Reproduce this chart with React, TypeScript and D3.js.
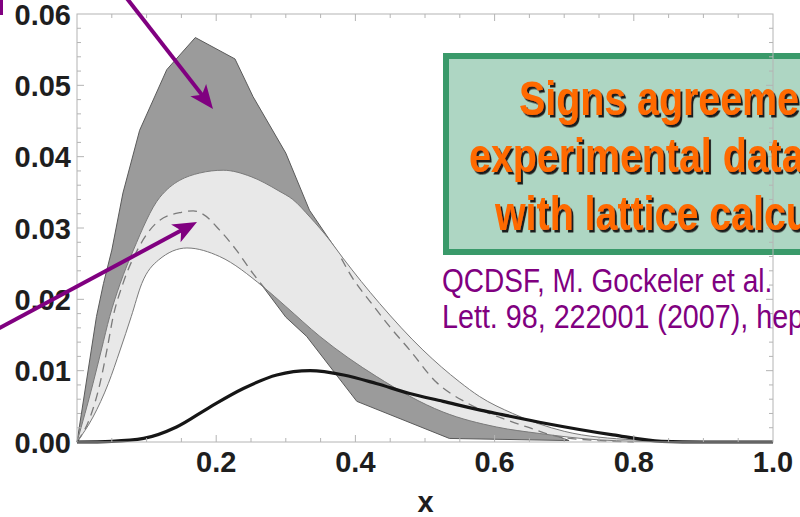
import React from "react";
import * as d3 from "d3";

const W = 800;
const H = 517;

const xTickLabels = [0.2, 0.4, 0.6, 0.8, 1.0];
const yTickLabels = [0, 0.01, 0.02, 0.03, 0.04, 0.05, 0.06];

// dark grey band (polygonal)
const darkUpper: [number, number][] = [
  [0, 0], [0.028, 0.0176], [0.038, 0.0222], [0.05, 0.0269], [0.066, 0.0349], [0.09, 0.0437],
  [0.129, 0.0522], [0.17, 0.0567], [0.227, 0.0537], [0.253, 0.0484], [0.3, 0.0405],
  [0.334, 0.0325], [0.382, 0.0256], [0.45, 0.016], [0.5, 0.011], [0.55, 0.0072],
  [0.62, 0.0035], [0.707, 0.0002],
];
const darkLower: [number, number][] = [
  [0, 0], [0.023, 0.0055], [0.047, 0.012], [0.07, 0.019], [0.1, 0.025], [0.15, 0.029],
  [0.2, 0.028], [0.267, 0.0218], [0.3, 0.0175], [0.33, 0.0148], [0.402, 0.0057],
  [0.535, 0.0005], [0.707, 0.0002],
];

// light grey band (smooth)
const lightUpper: [number, number][] = [
  [0, 0], [0.023, 0.0082], [0.035, 0.0129], [0.047, 0.0176], [0.062, 0.0222], [0.081, 0.0269],
  [0.119, 0.0343], [0.176, 0.0377], [0.21, 0.0381], [0.25, 0.0372], [0.29, 0.0352],
  [0.31, 0.034], [0.335, 0.0315], [0.363, 0.0283], [0.382, 0.0258], [0.435, 0.0194],
  [0.497, 0.0129], [0.55, 0.0084], [0.578, 0.0064], [0.626, 0.004], [0.7, 0.0015],
  [0.8, 0.0003], [0.9, 0],
];
const lightLower: [number, number][] = [
  [0, 0], [0.023, 0.0035], [0.045, 0.0082], [0.062, 0.0129], [0.078, 0.0176], [0.093, 0.0222],
  [0.117, 0.0255], [0.158, 0.0272], [0.205, 0.026], [0.267, 0.0218], [0.3, 0.019],
  [0.349, 0.0148], [0.43, 0.0092], [0.526, 0.0042], [0.603, 0.0021], [0.664, 0.0012],
  [0.75, 0.0003], [0.85, 0],
];

// dashed curves
const dashedA: [number, number][] = [
  [0, 0], [0.019, 0.0035], [0.033, 0.0082], [0.043, 0.0129], [0.052, 0.0176], [0.066, 0.0222],
  [0.09, 0.0275], [0.119, 0.0311], [0.15, 0.0322], [0.167, 0.0324], [0.18, 0.032],
  [0.205, 0.0297], [0.229, 0.0269], [0.253, 0.0236], [0.27, 0.0215],
];
const dashedB: [number, number][] = [
  [0.38, 0.0257], [0.392, 0.0236], [0.425, 0.0192], [0.449, 0.0162], [0.478, 0.0129],
  [0.516, 0.0084], [0.56, 0.0055], [0.617, 0.0031], [0.65, 0.002], [0.689, 0.0008],
  [0.75, 0.0002], [0.8, 0],
];

// solid black curve
const solidCurve: [number, number][] = [
  [0, 0], [0.05, 0.0001], [0.0957, 0.0005], [0.143, 0.0021], [0.191, 0.0049], [0.239, 0.0075],
  [0.287, 0.0094], [0.335, 0.01], [0.383, 0.0094], [0.43, 0.0082], [0.478, 0.0068],
  [0.526, 0.0057], [0.578, 0.0045], [0.603, 0.004], [0.674, 0.0026], [0.77, 0.001],
  [0.84, 0.0001], [0.9, 0], [1.0, 0],
];

const boxLines = ["Signs agreement", "experimental data", "with lattice calculations"];
const refLines = ["QCDSF, M. Gockeler et al.", "Lett. 98, 222001 (2007), hep-lat/0612032"];

function arrowHead(x1: number, y1: number, x2: number, y2: number, len: number, half: number) {
  const a = Math.atan2(y2 - y1, x2 - x1);
  const c = Math.cos(a), s = Math.sin(a);
  const bx = x2 - len * c, by = y2 - len * s;
  const nx = x2 - len * 0.75 * c, ny = y2 - len * 0.75 * s;
  const p1 = [bx - half * s, by + half * c];
  const p2 = [bx + half * s, by - half * c];
  return {
    d: `M${x2},${y2}L${p1[0]},${p1[1]}L${nx},${ny}L${p2[0]},${p2[1]}Z`,
    ex: nx + 2 * c,
    ey: ny + 2 * s,
  };
}

export default function App() {
  const x = d3.scaleLinear().domain([0, 1]).range([77, 773]);
  const y = d3.scaleLinear().domain([0, 0.06]).range([442, 14]);

  const smooth = d3.line<[number, number]>().x(d => x(d[0])).y(d => y(d[1])).curve(d3.curveMonotoneX);
  const straight = d3.line<[number, number]>().x(d => x(d[0])).y(d => y(d[1]));

  const darkPath = straight([...darkUpper, ...darkLower.slice().reverse()]) + "Z";
  const lightPath =
    (smooth(lightUpper) as string) +
    "L" + (smooth(lightLower.slice().reverse()) as string).slice(1) + "Z";

  const xMinor = d3.range(1, 20).map(i => i * 0.05);
  const yMinor = d3.range(1, 30).map(i => i * 0.002);
  const isMajorX = (v: number) => Math.abs(v * 5 - Math.round(v * 5)) < 1e-6;
  const isMajorY = (v: number) => Math.abs(v * 100 - Math.round(v * 100)) < 1e-6;

  const frameColor = "#b4b4b4";
  const x0 = x(0), x1 = x(1), y0 = y(0), y1 = y(0.06);

  const a1 = arrowHead(125, -4, 213, 109, 24, 10);
  const a2 = arrowHead(-4, 330, 197, 222, 24, 10);

  const labelFont = "'Liberation Sans', Arial, sans-serif";

  return (
    <svg width={W} height={H} style={{ position: "absolute", left: 0, top: 0, display: "block" }}>
      <defs>
        <filter id="textShadow" x="-5%" y="-20%" width="115%" height="150%">
          <feDropShadow dx={2.5} dy={2.5} stdDeviation={0.4} floodColor="#1a1a1a" floodOpacity={1} />
        </filter>
      </defs>
      <rect x={0} y={0} width={W} height={H} fill="#ffffff" />

      {/* bands */}
      <path d={darkPath} fill="#9b9b9b" stroke="#5a5a5a" strokeWidth={1} strokeLinejoin="round" />
      <path d={lightPath} fill="#e8e8e8" stroke="#7a7a7a" strokeWidth={1} />
      <path d={smooth(dashedA) as string} fill="none" stroke="#7a7a7a" strokeWidth={1.3} strokeDasharray="9,6" />
      <path d={smooth(dashedB) as string} fill="none" stroke="#7a7a7a" strokeWidth={1.3} strokeDasharray="9,6" />
      <path d={smooth(solidCurve) as string} fill="none" stroke="#161616" strokeWidth={3.2} />

      {/* green box fill */}
      <rect x={446} y={56} width={380} height={196} fill="#aed6c3" stroke="#3a9a6a" strokeWidth={6} />

      {/* frame */}
      <rect x={x0} y={y1} width={x1 - x0} height={y0 - y1} fill="none" stroke={frameColor} strokeWidth={1} />
      {xMinor.map((v, i) => {
        const L = isMajorX(v) ? 7 : 4;
        return (
          <g key={"xt" + i} stroke={frameColor} strokeWidth={1}>
            <line x1={x(v)} x2={x(v)} y1={y0} y2={y0 - L} />
            <line x1={x(v)} x2={x(v)} y1={y1} y2={y1 + L} />
          </g>
        );
      })}
      {yMinor.map((v, i) => {
        const L = isMajorY(v) ? 7 : 4;
        return (
          <g key={"yt" + i} stroke={frameColor} strokeWidth={1}>
            <line x1={x0} x2={x0 + L} y1={y(v)} y2={y(v)} />
            <line x1={x1} x2={x1 - L} y1={y(v)} y2={y(v)} />
          </g>
        );
      })}

      {/* tick labels */}
      {yTickLabels.map((v, i) => (
        <text key={"yl" + i} x={71} y={y(v) + 10.5} textAnchor="end" fontFamily={labelFont}
          fontWeight="bold" fontSize={29} fill="#1e1e1e">{v.toFixed(2)}</text>
      ))}
      {xTickLabels.map((v, i) => (
        <text key={"xl" + i} x={x(v)} y={472} textAnchor="middle" fontFamily={labelFont}
          fontWeight="bold" fontSize={29} fill="#1e1e1e">{v.toFixed(1)}</text>
      ))}
      <text x={425.5} y={512} textAnchor="middle" fontFamily={labelFont} fontWeight="bold" fontSize={29} fill="#1e1e1e">x</text>

      {/* box text */}
      {boxLines.map((t, i) => {
        const xs = [519, 469, 495][i];
        const ys = [115, 172, 230][i];
        return (
          <g key={"bt" + i} transform={`translate(${xs},${ys}) scale(0.82,1)`}>
            <text x={0} y={0} fontFamily={labelFont} fontWeight="bold" fontSize={48} fill="#ff6a00"
              filter="url(#textShadow)">{t}</text>
          </g>
        );
      })}

      {/* reference text */}
      {refLines.map((t, i) => (
        <g key={"rt" + i} transform={`translate(442,${[292, 328][i]}) scale(${[0.85, 0.87][i]},1)`}>
          <text x={0} y={0} fontFamily={labelFont} fontSize={33} fill="#800080">{t}</text>
        </g>
      ))}

      {/* arrows */}
      <rect x={0} y={0} width={3} height={15} fill="#800080" />
      <line x1={125} y1={-4} x2={a1.ex} y2={a1.ey} stroke="#800080" strokeWidth={4} />
      <path d={a1.d} fill="#800080" />
      <line x1={-4} y1={330} x2={a2.ex} y2={a2.ey} stroke="#800080" strokeWidth={4} />
      <path d={a2.d} fill="#800080" />
    </svg>
  );
}
